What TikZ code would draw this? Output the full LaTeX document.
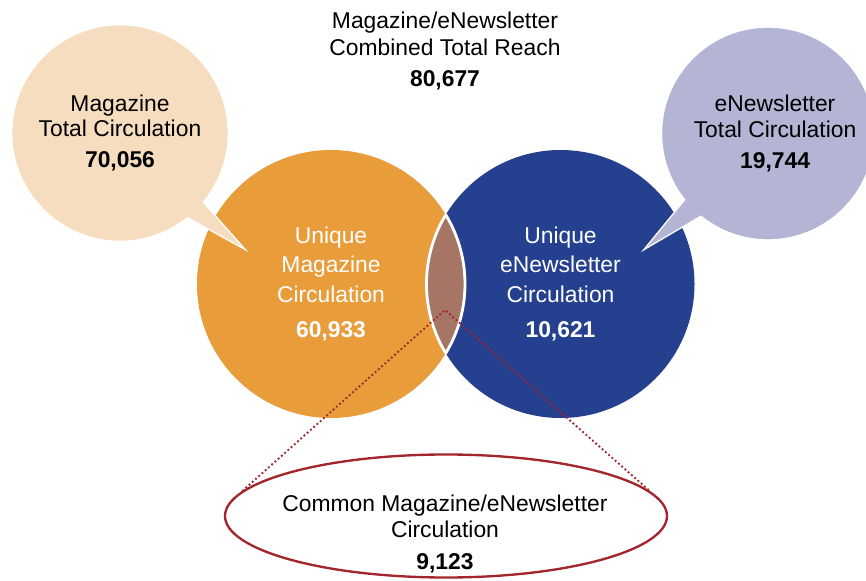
\documentclass[tikz,border=0pt]{standalone}
\usepackage{fontspec}
\setmainfont{Liberation Sans}
\usetikzlibrary{shapes.geometric}

\definecolor{magorange}{HTML}{E89C3A}
\definecolor{magpeach}{HTML}{F6DDBF}
\definecolor{newsblue}{HTML}{24408E}
\definecolor{newslilac}{HTML}{B4B4D4}
\definecolor{overlap}{HTML}{A77565}
\definecolor{ringred}{HTML}{A2262C}

\begin{document}
\begin{tikzpicture}[x=0.03cm, y=0.03cm,
  disc/.style={circle, minimum size=8.04cm, inner sep=0pt, outer sep=0pt, text=white, align=center, font=\fontsize{19.5}{25}\selectfont},
  bubble/.style={circle, draw=white, line width=1.2pt, inner sep=0pt, outer sep=0pt, align=center, font=\fontsize{19.5}{21.5}\selectfont},
  tail/.style={draw=white, line width=2.4pt, line join=miter},
  dots/.style={ringred, line width=1.6pt, dash pattern=on 1.6pt off 2.1pt},
  caption/.style={align=center, font=\fontsize{19.5}{22.5}\selectfont}
]
\useasboundingbox (0,0) rectangle (866,580);
\clip (0,0) rectangle (866,580);

% unique circulations
\node[disc, fill=magorange] (mag) at (331,296) {Unique\\Magazine\\Circulation\\[5pt]\textbf{60,933}};
\node[disc, fill=newsblue] (news) at (560.5,296) {Unique\\eNewsletter\\Circulation\\[5pt]\textbf{10,621}};

% overlap lens with white edge
\begin{scope}
  \clip (mag.center) circle (134);
  \filldraw[fill=overlap, draw=white, line width=2.4pt] (news.center) circle (134);
\end{scope}
\begin{scope}
  \clip (news.center) circle (134);
  \draw[white, line width=2.4pt] (mag.center) circle (134);
\end{scope}

% total circulation bubbles
\path[tail, fill=magpeach] (242,333) -- (183.5,399) -- (161,378) -- cycle;
\node[bubble, fill=magpeach, minimum size=6.5cm] (magtotal) at (120,447) {Magazine\\Total Circulation\\[5pt]\textbf{70,056}};
\fill[magpeach] (242,333) -- (183.5,399) -- (161,378) -- cycle;

\path[tail, fill=newslilac] (647,333) -- (701,399) -- (723.5,378) -- cycle;
\node[bubble, fill=newslilac, minimum size=6.39cm] (newstotal) at (768,446.5) {\hspace*{12pt}eNewsletter\\\hspace*{12pt}Total Circulation\\[5pt]\hspace*{12pt}\textbf{19,744}};
\fill[newslilac] (647,333) -- (701,399) -- (723.5,378) -- cycle;

% common part
\node[ellipse, draw=ringred, line width=2pt, minimum width=13.26cm, minimum height=3.69cm, inner sep=0pt] (ring) at (446,64) {};
\coordinate (peak) at (445,270);
\draw[dots] (ring.173) -- (peak) -- (ring.7);

\node[caption] (reach) at (445,529) {Magazine/eNewsletter\\Combined Total Reach\\[4pt]\textbf{80,677}};
\node[caption] (common) at (445,46) {Common Magazine/eNewsletter\\Circulation\\[5pt]\textbf{9,123}};
\end{tikzpicture}
\end{document}
